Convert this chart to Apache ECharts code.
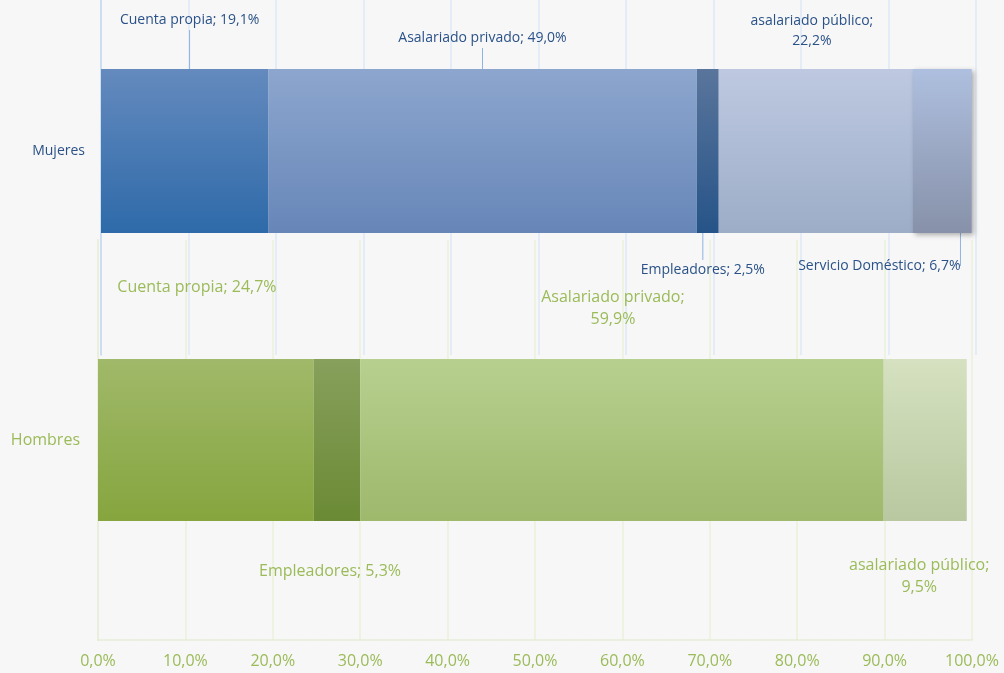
<!DOCTYPE html>
<html>
<head>
<meta charset="utf-8">
<script src="https://cdn.jsdelivr.net/npm/echarts@6/dist/echarts.min.js"></script>
<style>
  html, body { margin: 0; padding: 0; background: #f7f7f7; }
  #chart { width: 1004px; height: 673px; }
</style>
</head>
<body>
<div id="chart"></div>
<script>
// Mujeres (blue chart)
const mujeresCategory = ['Mujeres']
const mujeresNames = ['Cuenta propia', 'Asalariado privado', 'Empleadores', 'asalariado público', 'Servicio Doméstico']
const mujeresValues = [19.1, 49.0, 2.5, 22.2, 6.7]

// Hombres (green chart)
const hombresCategory = ['Hombres']
const hombresNames = ['Cuenta propia', 'Empleadores', 'Asalariado privado', 'asalariado público']
const hombresValues = [24.7, 5.3, 59.9, 9.5]

// x axis ticks 0..100 step 10
const xMin = 0
const xMax = 100
const xStep = 10

const blueText = '#2a5288'
const greenText = '#9bbb59'
const font = '"Open Sans", "Noto Sans", sans-serif'

// gradient top -> bottom per segment
const mujeresColors = [
  ['#648abe', '#2e6aa9'],
  ['#8ca6ce', '#6786b8'],
  ['#5a759c', '#265488'],
  ['#bec9e1', '#9dadc7'],
  ['#aebfdf', '#8791a9'],
]
const hombresColors = [
  ['#a0b96a', '#86a53e'],
  ['#87a05c', '#6b8a35'],
  ['#b8d08f', '#9eb86c'],
  ['#d5e1c0', '#b9c8a0'],
]

// label offsets from the segment centre
const mujeresLabelShift = [[5, -131], [0, -113], [-5, 119], [-4, -120], [-63, 115]]
const mujeresLabelLine = [true, true, true, false, true]
const mujeresWrap = [false, false, false, true, false]
const hombresLabelShift = [[-9, -153], [-7, 131], [-9, -132], [-6, 136]]
const hombresWrap = [false, false, true, true]

const pct = v => v.toFixed(1).replace('.', ',') + '%'

function grad(c) {
  return new echarts.graphic.LinearGradient(0, 0, 0, 1, [
    { offset: 0, color: c[0] },
    { offset: 1, color: c[1] },
  ])
}

const series = []

mujeresNames.forEach((name, i) => {
  series.push({
    name: name,
    type: 'bar',
    stack: 'muj',
    xAxisIndex: 0,
    yAxisIndex: 0,
    barWidth: 164,
    data: [mujeresValues[i]],
    itemStyle: Object.assign(
      { color: grad(mujeresColors[i]) },
      i === 4 ? { shadowBlur: 5, shadowOffsetX: 2, shadowOffsetY: 2, shadowColor: 'rgba(0,0,0,0.3)' } : {}
    ),
    label: {
      show: true,
      position: 'inside',
      color: blueText,
      fontFamily: font,
      fontSize: 14,
      lineHeight: 20,
      textBorderWidth: 0,
      align: 'center',
      formatter: p => name + (mujeresWrap[i] ? ';\n' : '; ') + pct(p.value),
    },
    labelLine: {
      show: mujeresLabelLine[i],
      lineStyle: { color: '#8eb4e3', width: 1 },
    },
    labelLayout: { dx: mujeresLabelShift[i][0], dy: mujeresLabelShift[i][1] },
    emphasis: { disabled: true },
  })
})

hombresNames.forEach((name, i) => {
  series.push({
    name: name + ' H',
    type: 'bar',
    stack: 'hom',
    xAxisIndex: 1,
    yAxisIndex: 1,
    barWidth: 162,
    data: [hombresValues[i]],
    itemStyle: { color: grad(hombresColors[i]) },
    label: {
      show: true,
      position: 'inside',
      color: greenText,
      fontFamily: font,
      fontSize: 16,
      lineHeight: 22,
      textBorderWidth: 0,
      align: 'center',
      formatter: p => name + (hombresWrap[i] ? ';\n' : '; ') + pct(p.value),
    },
    labelLayout: { dx: hombresLabelShift[i][0], dy: hombresLabelShift[i][1] },
    emphasis: { disabled: true },
  })
})

const chart = echarts.init(document.getElementById('chart'))
chart.setOption({
  backgroundColor: '#f7f7f7',
  animation: false,
  grid: [
    { left: 101, right: 28, top: 0, bottom: 371 },
    { left: 98, right: 32, top: 240, bottom: 33 },
    // blue gridlines of the top chart run further down than its bar band
    { left: 101, right: 28, top: 0, bottom: 318 },
  ],
  xAxis: [
    {
      gridIndex: 0,
      type: 'value',
      min: xMin,
      max: xMax,
      interval: xStep,
      axisLabel: { show: false },
      axisLine: { show: false },
      axisTick: { show: false },
      splitLine: { show: false },
    },
    {
      gridIndex: 1,
      type: 'value',
      min: xMin,
      max: xMax,
      interval: xStep,
      axisLabel: {
        color: greenText,
        fontFamily: font,
        fontSize: 16,
        margin: 13,
        formatter: v => pct(v),
      },
      axisLine: { show: true, lineStyle: { color: '#e3ebd2', type: 'dotted', width: 1.5 } },
      axisTick: { show: false },
      splitLine: { lineStyle: { color: '#edf2e1', width: 2 } },
    },
    {
      gridIndex: 2,
      type: 'value',
      min: xMin,
      max: xMax,
      interval: xStep,
      axisLabel: { show: false },
      axisLine: { show: false },
      axisTick: { show: false },
      splitLine: { lineStyle: { color: '#dce9f7', width: 1.5 } },
    },
  ],
  yAxis: [
    {
      gridIndex: 0,
      type: 'category',
      data: mujeresCategory,
      axisLabel: { color: blueText, fontFamily: font, fontSize: 14, margin: 16 },
      axisLine: { show: false },
      axisTick: { show: false },
    },
    {
      gridIndex: 1,
      type: 'category',
      data: hombresCategory,
      axisLabel: { color: greenText, fontFamily: font, fontSize: 16, margin: 18 },
      axisLine: { show: true, lineStyle: { color: '#e9efdc', width: 2 } },
      axisTick: { show: false },
    },
    {
      gridIndex: 2,
      type: 'category',
      data: mujeresCategory,
      axisLabel: { show: false },
      axisLine: { show: true, lineStyle: { color: '#c6d9f0', width: 1.5 } },
      axisTick: { show: false },
    },
  ],
  series: series,
})
</script>
</body>
</html>
